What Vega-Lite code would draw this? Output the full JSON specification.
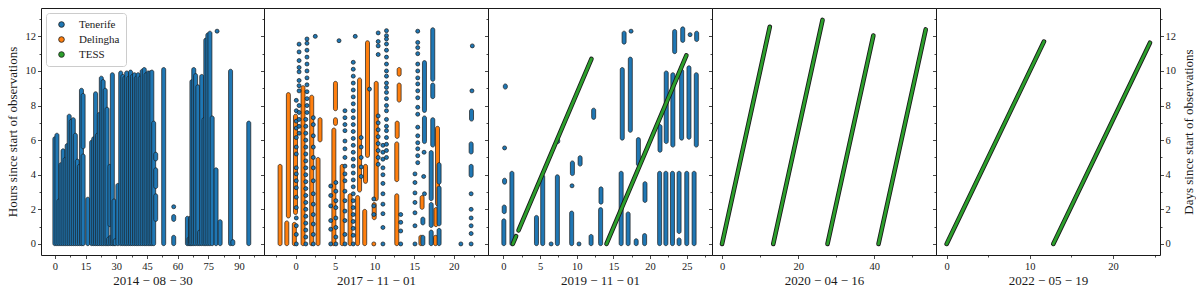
{
  "$schema": "https://vega.github.io/schema/vega-lite/v6.json",
  "padding": {"left": 5, "top": 7, "right": 0, "bottom": 0},
  "spacing": 0,
  "bounds": "flush",
  "background": "white",
  "config": {
    "font": "Liberation Serif",
    "view": {"stroke": "#1a1a1a", "strokeWidth": 1},
    "axis": {"domain": false, "grid": false, "tickColor": "#1a1a1a", "tickWidth": 0.8, "labelFont": "Liberation Serif", "labelFontSize": 10.5, "labelColor": "#1a1a1a", "titleFont": "Liberation Serif", "titleFontSize": 13, "titleFontWeight": "normal", "titleColor": "#1a1a1a", "labelOverlap": false, "labelFlush": false},
    "legend": {"labelFont": "Liberation Serif", "labelFontSize": 11, "labelColor": "#1a1a1a"}
  },
  "resolve": {"scale": {"color": "independent"}, "legend": {"color": "independent"}},
  "datasets": {
    "bars": [
      {"p":1,"s":"Tenerife","x":0,"y":-0.1,"y2":6.2},
      {"p":1,"s":"Tenerife","x":1,"y":-0.1,"y2":6.4},
      {"p":1,"s":"Tenerife","x":2,"y":-0.1,"y2":2.6},
      {"p":1,"s":"Tenerife","x":3,"y":-0.1,"y2":4.7},
      {"p":1,"s":"Tenerife","x":4,"y":-0.1,"y2":5.5},
      {"p":1,"s":"Tenerife","x":5,"y":-0.1,"y2":5.0},
      {"p":1,"s":"Tenerife","x":6,"y":-0.1,"y2":5.8},
      {"p":1,"s":"Tenerife","x":7,"y":-0.1,"y2":7.5},
      {"p":1,"s":"Tenerife","x":8,"y":-0.1,"y2":7.2},
      {"p":1,"s":"Tenerife","x":9,"y":-0.1,"y2":7.3},
      {"p":1,"s":"Tenerife","x":10,"y":-0.1,"y2":6.4},
      {"p":1,"s":"Tenerife","x":11,"y":-0.1,"y2":4.9},
      {"p":1,"s":"Tenerife","x":12,"y":-0.1,"y2":4.6},
      {"p":1,"s":"Tenerife","x":13,"y":-0.1,"y2":9.0},
      {"p":1,"s":"Tenerife","x":13.8,"y":-0.1,"y2":5.2},
      {"p":1,"s":"Tenerife","x":13.8,"y":5.5,"y2":8.7},
      {"p":1,"s":"Tenerife","x":16.1,"y":-0.1,"y2":2.7},
      {"p":1,"s":"Tenerife","x":18,"y":-0.1,"y2":6.0},
      {"p":1,"s":"Tenerife","x":19,"y":-0.1,"y2":6.2},
      {"p":1,"s":"Tenerife","x":19.9,"y":-0.1,"y2":8.8},
      {"p":1,"s":"Tenerife","x":20.8,"y":-0.1,"y2":6.4},
      {"p":1,"s":"Tenerife","x":21.7,"y":-0.1,"y2":7.6},
      {"p":1,"s":"Tenerife","x":22.7,"y":-0.1,"y2":9.7},
      {"p":1,"s":"Tenerife","x":23.6,"y":-0.1,"y2":9.5},
      {"p":1,"s":"Tenerife","x":24.6,"y":-0.1,"y2":9.0},
      {"p":1,"s":"Tenerife","x":25.5,"y":-0.1,"y2":7.9},
      {"p":1,"s":"Tenerife","x":26.3,"y":-0.1,"y2":0.4},
      {"p":1,"s":"Tenerife","x":26.9,"y":1.0,"y2":4.6},
      {"p":1,"s":"Tenerife","x":27.3,"y":-0.1,"y2":0.5},
      {"p":1,"s":"Tenerife","x":28.1,"y":-0.1,"y2":9.9},
      {"p":1,"s":"Tenerife","x":28.9,"y":-0.1,"y2":2.6},
      {"p":1,"s":"Tenerife","x":29.5,"y":-0.1,"y2":0.3},
      {"p":1,"s":"Tenerife","x":30.8,"y":-0.1,"y2":3.5},
      {"p":1,"s":"Tenerife","x":32.2,"y":-0.1,"y2":10.0},
      {"p":1,"s":"Tenerife","x":33.2,"y":-0.1,"y2":9.8},
      {"p":1,"s":"Tenerife","x":34.2,"y":-0.1,"y2":9.7},
      {"p":1,"s":"Tenerife","x":35.1,"y":-0.1,"y2":10.0},
      {"p":1,"s":"Tenerife","x":36.1,"y":-0.1,"y2":9.7},
      {"p":1,"s":"Tenerife","x":37,"y":-0.1,"y2":10.05},
      {"p":1,"s":"Tenerife","x":37.9,"y":-0.1,"y2":9.8},
      {"p":1,"s":"Tenerife","x":38.9,"y":-0.1,"y2":9.9},
      {"p":1,"s":"Tenerife","x":39.8,"y":-0.1,"y2":9.7},
      {"p":1,"s":"Tenerife","x":40.7,"y":-0.1,"y2":9.9},
      {"p":1,"s":"Tenerife","x":41.7,"y":-0.1,"y2":9.7},
      {"p":1,"s":"Tenerife","x":42.7,"y":-0.1,"y2":10.1},
      {"p":1,"s":"Tenerife","x":43.7,"y":-0.1,"y2":10.2},
      {"p":1,"s":"Tenerife","x":44.6,"y":-0.1,"y2":9.9},
      {"p":1,"s":"Tenerife","x":45.6,"y":-0.1,"y2":10.0},
      {"p":1,"s":"Tenerife","x":46.5,"y":-0.1,"y2":10.0},
      {"p":1,"s":"Tenerife","x":47.4,"y":-0.1,"y2":10.05},
      {"p":1,"s":"Tenerife","x":48.3,"y":-0.1,"y2":7.1},
      {"p":1,"s":"Tenerife","x":49.3,"y":4.8,"y2":5.3},
      {"p":1,"s":"Tenerife","x":49.3,"y":3.2,"y2":4.4},
      {"p":1,"s":"Tenerife","x":49.3,"y":1.3,"y2":2.9},
      {"p":1,"s":"Tenerife","x":53.2,"y":-0.1,"y2":10.2},
      {"p":1,"s":"Tenerife","x":58.1,"y":1.3,"y2":1.7},
      {"p":1,"s":"Tenerife","x":58.1,"y":-0.1,"y2":0.5},
      {"p":1,"s":"Tenerife","x":64.8,"y":-0.1,"y2":1.6},
      {"p":1,"s":"Tenerife","x":65.6,"y":-0.1,"y2":0.4},
      {"p":1,"s":"Tenerife","x":66.3,"y":-0.1,"y2":1.6},
      {"p":1,"s":"Tenerife","x":67,"y":-0.1,"y2":9.5},
      {"p":1,"s":"Tenerife","x":67.9,"y":-0.1,"y2":10.2},
      {"p":1,"s":"Tenerife","x":68.8,"y":-0.1,"y2":9.85},
      {"p":1,"s":"Tenerife","x":69.9,"y":-0.1,"y2":9.2},
      {"p":1,"s":"Tenerife","x":70.8,"y":-0.1,"y2":0.8},
      {"p":1,"s":"Tenerife","x":71.8,"y":-0.1,"y2":9.8},
      {"p":1,"s":"Tenerife","x":72.9,"y":-0.1,"y2":7.3},
      {"p":1,"s":"Tenerife","x":73.8,"y":-0.1,"y2":11.9},
      {"p":1,"s":"Tenerife","x":74.8,"y":-0.1,"y2":12.2},
      {"p":1,"s":"Tenerife","x":75.8,"y":-0.1,"y2":12.3},
      {"p":1,"s":"Tenerife","x":76.9,"y":-0.1,"y2":7.4},
      {"p":1,"s":"Tenerife","x":78.8,"y":-0.1,"y2":4.4},
      {"p":1,"s":"Tenerife","x":80.8,"y":-0.1,"y2":1.4},
      {"p":1,"s":"Tenerife","x":85.9,"y":-0.1,"y2":10.1},
      {"p":1,"s":"Tenerife","x":87,"y":-0.1,"y2":0.25},
      {"p":1,"s":"Tenerife","x":94.8,"y":-0.1,"y2":7.1},

      {"p":2,"s":"Delingha","x":-1.95,"y":-0.1,"y2":4.6},
      {"p":2,"s":"Delingha","x":-1.1,"y":-0.1,"y2":1.33},
      {"p":2,"s":"Delingha","x":-0.9,"y":1.5,"y2":8.75},
      {"p":2,"s":"Delingha","x":-0.15,"y":-0.1,"y2":1.25},
      {"p":2,"s":"Delingha","x":0.0,"y":1.7,"y2":7.5},
      {"p":2,"s":"Delingha","x":0.95,"y":-0.1,"y2":9.15},
      {"p":2,"s":"Delingha","x":2.05,"y":-0.1,"y2":8.6},
      {"p":2,"s":"Delingha","x":2.85,"y":-0.1,"y2":5.0},
      {"p":2,"s":"Delingha","x":3.1,"y":5.9,"y2":7.3},
      {"p":2,"s":"Delingha","x":4.85,"y":-0.1,"y2":6.7},
      {"p":2,"s":"Delingha","x":5.05,"y":6.85,"y2":7.3},
      {"p":2,"s":"Delingha","x":5.05,"y":7.7,"y2":9.4},
      {"p":2,"s":"Delingha","x":5.9,"y":-0.1,"y2":4.6},
      {"p":2,"s":"Delingha","x":6.9,"y":-0.1,"y2":2.9},
      {"p":2,"s":"Delingha","x":7.85,"y":-0.1,"y2":2.8},
      {"p":2,"s":"Delingha","x":8.1,"y":3.0,"y2":9.6},
      {"p":2,"s":"Delingha","x":8.75,"y":-0.1,"y2":2.0},
      {"p":2,"s":"Delingha","x":8.85,"y":3.5,"y2":4.6},
      {"p":2,"s":"Delingha","x":9.1,"y":5.0,"y2":11.75},
      {"p":2,"s":"Delingha","x":9.95,"y":1.4,"y2":2.4},
      {"p":2,"s":"Delingha","x":10.2,"y":2.5,"y2":9.4},
      {"p":2,"s":"Delingha","x":12.8,"y":-0.1,"y2":2.9},
      {"p":2,"s":"Delingha","x":12.8,"y":3.6,"y2":5.9},
      {"p":2,"s":"Delingha","x":12.85,"y":6.1,"y2":7.1},
      {"p":2,"s":"Delingha","x":13.1,"y":8.2,"y2":9.3},
      {"p":2,"s":"Delingha","x":13.1,"y":9.7,"y2":10.2},
      {"p":2,"s":"Delingha","x":15.85,"y":-0.1,"y2":0.5},
      {"p":2,"s":"Delingha","x":16.0,"y":2.0,"y2":2.8},
      {"p":2,"s":"Delingha","x":17.7,"y":-0.1,"y2":0.5},
      {"p":2,"s":"Delingha","x":17.75,"y":1.0,"y2":2.1},
      {"p":2,"s":"Delingha","x":17.95,"y":2.2,"y2":6.8},
      {"p":2,"s":"Tenerife","x":16.1,"y":-0.1,"y2":0.5},
      {"p":2,"s":"Tenerife","x":16.1,"y":1.1,"y2":1.55},
      {"p":2,"s":"Tenerife","x":16.3,"y":5.8,"y2":7.4},
      {"p":2,"s":"Tenerife","x":16.3,"y":7.6,"y2":10.6},
      {"p":2,"s":"Tenerife","x":17.15,"y":-0.1,"y2":0.8},
      {"p":2,"s":"Tenerife","x":17.15,"y":0.95,"y2":2.4},
      {"p":2,"s":"Tenerife","x":17.15,"y":2.5,"y2":5.4},
      {"p":2,"s":"Tenerife","x":17.35,"y":5.6,"y2":7.3},
      {"p":2,"s":"Tenerife","x":17.35,"y":8.4,"y2":9.3},
      {"p":2,"s":"Tenerife","x":17.35,"y":9.4,"y2":12.5},
      {"p":2,"s":"Tenerife","x":18.15,"y":-0.1,"y2":0.9},
      {"p":2,"s":"Tenerife","x":18.15,"y":1.05,"y2":3.35},
      {"p":2,"s":"Tenerife","x":18.15,"y":3.45,"y2":4.7},
      {"p":2,"s":"Tenerife","x":22.2,"y":3.85,"y2":4.6},
      {"p":2,"s":"Tenerife","x":22.2,"y":5.2,"y2":5.9},
      {"p":2,"s":"Tenerife","x":22.25,"y":7.1,"y2":7.8},

      {"p":3,"s":"Tenerife","x":0.05,"y":-0.1,"y2":1.45},
      {"p":3,"s":"Tenerife","x":0.1,"y":1.75,"y2":2.25},
      {"p":3,"s":"Tenerife","x":0.15,"y":3.45,"y2":3.8},
      {"p":3,"s":"Tenerife","x":0.25,"y":8.95,"y2":9.25},
      {"p":3,"s":"Tenerife","x":1.15,"y":-0.1,"y2":4.2},
      {"p":3,"s":"Tenerife","x":4.5,"y":-0.1,"y2":1.65},
      {"p":3,"s":"Tenerife","x":5.35,"y":-0.1,"y2":4.0},
      {"p":3,"s":"Tenerife","x":7.35,"y":-0.1,"y2":4.0},
      {"p":3,"s":"Tenerife","x":7.4,"y":5.8,"y2":6.1},
      {"p":3,"s":"Tenerife","x":9.3,"y":-0.1,"y2":1.9},
      {"p":3,"s":"Tenerife","x":9.4,"y":3.95,"y2":4.8},
      {"p":3,"s":"Tenerife","x":10.45,"y":4.5,"y2":5.1},
      {"p":3,"s":"Tenerife","x":11.95,"y":-0.1,"y2":0.55},
      {"p":3,"s":"Tenerife","x":12.3,"y":7.2,"y2":7.85},
      {"p":3,"s":"Tenerife","x":13.25,"y":-0.1,"y2":2.1},
      {"p":3,"s":"Tenerife","x":13.3,"y":2.3,"y2":3.3},
      {"p":3,"s":"Tenerife","x":16.05,"y":-0.1,"y2":4.2},
      {"p":3,"s":"Tenerife","x":16.2,"y":6.0,"y2":10.2},
      {"p":3,"s":"Tenerife","x":16.45,"y":11.55,"y2":12.3},
      {"p":3,"s":"Tenerife","x":17.0,"y":-0.1,"y2":1.85},
      {"p":3,"s":"Tenerife","x":17.3,"y":6.45,"y2":10.8},
      {"p":3,"s":"Tenerife","x":18.1,"y":-0.1,"y2":0.3},
      {"p":3,"s":"Tenerife","x":18.4,"y":4.5,"y2":6.15},
      {"p":3,"s":"Tenerife","x":19.25,"y":-0.1,"y2":0.6},
      {"p":3,"s":"Tenerife","x":19.3,"y":2.4,"y2":3.6},
      {"p":3,"s":"Tenerife","x":21.3,"y":-0.1,"y2":4.2},
      {"p":3,"s":"Tenerife","x":21.35,"y":5.3,"y2":6.9},
      {"p":3,"s":"Tenerife","x":22.15,"y":-0.1,"y2":4.2},
      {"p":3,"s":"Tenerife","x":22.2,"y":5.8,"y2":10.0},
      {"p":3,"s":"Tenerife","x":23.05,"y":-0.1,"y2":4.2},
      {"p":3,"s":"Tenerife","x":23.1,"y":5.6,"y2":9.9},
      {"p":3,"s":"Tenerife","x":23.35,"y":11.0,"y2":12.4},
      {"p":3,"s":"Tenerife","x":23.95,"y":-0.1,"y2":0.35},
      {"p":3,"s":"Tenerife","x":23.95,"y":0.6,"y2":4.2},
      {"p":3,"s":"Tenerife","x":24.3,"y":6.0,"y2":10.1},
      {"p":3,"s":"Tenerife","x":24.45,"y":11.65,"y2":12.55},
      {"p":3,"s":"Tenerife","x":25.0,"y":-0.1,"y2":4.2},
      {"p":3,"s":"Tenerife","x":25.3,"y":6.05,"y2":10.3},
      {"p":3,"s":"Tenerife","x":26.0,"y":-0.1,"y2":4.2},
      {"p":3,"s":"Tenerife","x":26.3,"y":5.6,"y2":9.9},
      {"p":3,"s":"Tenerife","x":26.35,"y":11.7,"y2":12.3}
    ],
    "dots": [
      {"p":1,"s":"Tenerife","x":58.1,"y":2.15},
      {"p":1,"s":"Tenerife","x":79.3,"y":12.3},
      {"p":2,"s":"Delingha","x":9.9,"y":0},
      {"p":2,"s":"Tenerife","x":0.1,"y":0},{"p":2,"s":"Tenerife","x":0.1,"y":0.55},{"p":2,"s":"Tenerife","x":0.1,"y":1.05},{"p":2,"s":"Tenerife","x":0.1,"y":1.5},{"p":2,"s":"Tenerife","x":0.1,"y":2.1},{"p":2,"s":"Tenerife","x":0.1,"y":2.7},{"p":2,"s":"Tenerife","x":0.1,"y":3.25},{"p":2,"s":"Tenerife","x":0.1,"y":3.65},{"p":2,"s":"Tenerife","x":0.1,"y":4.05},{"p":2,"s":"Tenerife","x":0.1,"y":4.4},{"p":2,"s":"Tenerife","x":0.1,"y":5.2},{"p":2,"s":"Tenerife","x":0.1,"y":5.6},{"p":2,"s":"Tenerife","x":0.1,"y":6.15},{"p":2,"s":"Tenerife","x":0.1,"y":6.7},{"p":2,"s":"Tenerife","x":0.1,"y":7.1},{"p":2,"s":"Tenerife","x":0.1,"y":7.7},{"p":2,"s":"Tenerife","x":0.1,"y":8.3},
      {"p":2,"s":"Tenerife","x":0.45,"y":11.55},{"p":2,"s":"Tenerife","x":0.45,"y":11.1},{"p":2,"s":"Tenerife","x":0.45,"y":10.6},{"p":2,"s":"Tenerife","x":0.45,"y":10.2},{"p":2,"s":"Tenerife","x":0.45,"y":9.95},{"p":2,"s":"Tenerife","x":0.45,"y":9.45},{"p":2,"s":"Tenerife","x":0.45,"y":9.15},{"p":2,"s":"Tenerife","x":0.45,"y":8.85},{"p":2,"s":"Tenerife","x":0.45,"y":8.0},{"p":2,"s":"Tenerife","x":0.45,"y":7.6},{"p":2,"s":"Tenerife","x":0.45,"y":7.2},{"p":2,"s":"Tenerife","x":0.45,"y":6.8},{"p":2,"s":"Tenerife","x":0.45,"y":6.4},
      {"p":2,"s":"Tenerife","x":1.3,"y":0},{"p":2,"s":"Tenerife","x":1.3,"y":0.4},{"p":2,"s":"Tenerife","x":1.3,"y":0.8},{"p":2,"s":"Tenerife","x":1.3,"y":1.2},{"p":2,"s":"Tenerife","x":1.3,"y":1.6},{"p":2,"s":"Tenerife","x":1.3,"y":2.0},{"p":2,"s":"Tenerife","x":1.3,"y":2.4},{"p":2,"s":"Tenerife","x":1.3,"y":2.8},{"p":2,"s":"Tenerife","x":1.3,"y":3.2},{"p":2,"s":"Tenerife","x":1.3,"y":3.6},{"p":2,"s":"Tenerife","x":1.3,"y":4.0},{"p":2,"s":"Tenerife","x":1.3,"y":4.4},{"p":2,"s":"Tenerife","x":1.3,"y":4.8},{"p":2,"s":"Tenerife","x":1.3,"y":5.2},{"p":2,"s":"Tenerife","x":1.3,"y":5.6},{"p":2,"s":"Tenerife","x":1.3,"y":6.0},{"p":2,"s":"Tenerife","x":1.3,"y":6.4},{"p":2,"s":"Tenerife","x":1.3,"y":6.8},{"p":2,"s":"Tenerife","x":1.3,"y":7.2},
      {"p":2,"s":"Tenerife","x":1.45,"y":7.6},{"p":2,"s":"Tenerife","x":1.45,"y":8.0},{"p":2,"s":"Tenerife","x":1.45,"y":8.4},{"p":2,"s":"Tenerife","x":1.45,"y":8.8},{"p":2,"s":"Tenerife","x":1.45,"y":9.2},{"p":2,"s":"Tenerife","x":1.45,"y":9.6},{"p":2,"s":"Tenerife","x":1.45,"y":10.0},{"p":2,"s":"Tenerife","x":1.45,"y":10.4},{"p":2,"s":"Tenerife","x":1.45,"y":10.8},{"p":2,"s":"Tenerife","x":1.45,"y":11.2},{"p":2,"s":"Tenerife","x":1.45,"y":11.6},{"p":2,"s":"Tenerife","x":1.45,"y":11.85},
      {"p":2,"s":"Tenerife","x":2.25,"y":7.3},{"p":2,"s":"Tenerife","x":2.25,"y":6.9},{"p":2,"s":"Tenerife","x":2.25,"y":6.25},{"p":2,"s":"Tenerife","x":2.25,"y":5.6},{"p":2,"s":"Tenerife","x":2.25,"y":5.0},{"p":2,"s":"Tenerife","x":2.25,"y":4.4},{"p":2,"s":"Tenerife","x":2.25,"y":3.65},{"p":2,"s":"Tenerife","x":2.25,"y":2.9},{"p":2,"s":"Tenerife","x":2.25,"y":2.3},{"p":2,"s":"Tenerife","x":2.25,"y":1.7},{"p":2,"s":"Tenerife","x":2.25,"y":1.15},{"p":2,"s":"Tenerife","x":2.25,"y":0.55},{"p":2,"s":"Tenerife","x":2.25,"y":0},
      {"p":2,"s":"Tenerife","x":2.5,"y":12.0},
      {"p":2,"s":"Tenerife","x":4.45,"y":3.35},{"p":2,"s":"Tenerife","x":4.45,"y":2.8},{"p":2,"s":"Tenerife","x":4.45,"y":2.2},{"p":2,"s":"Tenerife","x":4.45,"y":1.35},{"p":2,"s":"Tenerife","x":4.45,"y":0.85},{"p":2,"s":"Tenerife","x":4.45,"y":0},
      {"p":2,"s":"Tenerife","x":5.1,"y":3.55},{"p":2,"s":"Tenerife","x":5.1,"y":3.05},{"p":2,"s":"Tenerife","x":5.1,"y":2.5},{"p":2,"s":"Tenerife","x":5.1,"y":2.1},{"p":2,"s":"Tenerife","x":5.1,"y":1.5},{"p":2,"s":"Tenerife","x":5.1,"y":0.95},{"p":2,"s":"Tenerife","x":5.1,"y":0.4},{"p":2,"s":"Tenerife","x":5.1,"y":0},
      {"p":2,"s":"Tenerife","x":5.5,"y":11.75},
      {"p":2,"s":"Tenerife","x":6.25,"y":7.7},{"p":2,"s":"Tenerife","x":6.25,"y":7.3},{"p":2,"s":"Tenerife","x":6.25,"y":6.9},{"p":2,"s":"Tenerife","x":6.25,"y":6.55},{"p":2,"s":"Tenerife","x":6.25,"y":5.95},{"p":2,"s":"Tenerife","x":6.25,"y":5.5},{"p":2,"s":"Tenerife","x":6.25,"y":5.0},{"p":2,"s":"Tenerife","x":6.25,"y":4.5},{"p":2,"s":"Tenerife","x":6.25,"y":4.05},{"p":2,"s":"Tenerife","x":6.25,"y":3.65},{"p":2,"s":"Tenerife","x":6.25,"y":3.05},{"p":2,"s":"Tenerife","x":6.25,"y":2.5},{"p":2,"s":"Tenerife","x":6.25,"y":1.9},{"p":2,"s":"Tenerife","x":6.25,"y":1.35},{"p":2,"s":"Tenerife","x":6.25,"y":0.55},{"p":2,"s":"Tenerife","x":6.25,"y":0},
      {"p":2,"s":"Tenerife","x":7.3,"y":10.5},{"p":2,"s":"Tenerife","x":7.3,"y":10.1},{"p":2,"s":"Tenerife","x":7.3,"y":9.7},{"p":2,"s":"Tenerife","x":7.3,"y":9.3},{"p":2,"s":"Tenerife","x":7.3,"y":8.9},{"p":2,"s":"Tenerife","x":7.3,"y":8.5},{"p":2,"s":"Tenerife","x":7.3,"y":8.1},{"p":2,"s":"Tenerife","x":7.3,"y":7.7},{"p":2,"s":"Tenerife","x":7.3,"y":7.3},{"p":2,"s":"Tenerife","x":7.3,"y":6.9},{"p":2,"s":"Tenerife","x":7.3,"y":6.5},{"p":2,"s":"Tenerife","x":7.3,"y":6.1},{"p":2,"s":"Tenerife","x":7.3,"y":5.7},{"p":2,"s":"Tenerife","x":7.3,"y":5.3},{"p":2,"s":"Tenerife","x":7.3,"y":4.9},{"p":2,"s":"Tenerife","x":7.3,"y":4.5},{"p":2,"s":"Tenerife","x":7.3,"y":4.1},{"p":2,"s":"Tenerife","x":7.3,"y":3.7},{"p":2,"s":"Tenerife","x":7.3,"y":3.3},{"p":2,"s":"Tenerife","x":7.3,"y":2.9},{"p":2,"s":"Tenerife","x":7.3,"y":2.5},{"p":2,"s":"Tenerife","x":7.3,"y":2.1},{"p":2,"s":"Tenerife","x":7.3,"y":1.7},{"p":2,"s":"Tenerife","x":7.3,"y":1.3},{"p":2,"s":"Tenerife","x":7.3,"y":0.9},{"p":2,"s":"Tenerife","x":7.3,"y":0.5},{"p":2,"s":"Tenerife","x":7.3,"y":0},
      {"p":2,"s":"Tenerife","x":7.55,"y":12.0},
      {"p":2,"s":"Tenerife","x":8.3,"y":6.15},{"p":2,"s":"Tenerife","x":8.3,"y":5.6},{"p":2,"s":"Tenerife","x":8.3,"y":5.0},{"p":2,"s":"Tenerife","x":8.3,"y":4.45},{"p":2,"s":"Tenerife","x":8.3,"y":3.9},
      {"p":2,"s":"Tenerife","x":9.35,"y":8.95},
      {"p":2,"s":"Tenerife","x":9.9,"y":2.6},{"p":2,"s":"Tenerife","x":9.9,"y":2.2},{"p":2,"s":"Tenerife","x":9.9,"y":1.7},
      {"p":2,"s":"Tenerife","x":10.45,"y":12.2},{"p":2,"s":"Tenerife","x":10.45,"y":11.7},{"p":2,"s":"Tenerife","x":10.45,"y":11.45},{"p":2,"s":"Tenerife","x":10.45,"y":10.95},{"p":2,"s":"Tenerife","x":10.45,"y":7.4},{"p":2,"s":"Tenerife","x":10.45,"y":7.0},{"p":2,"s":"Tenerife","x":10.45,"y":6.6},{"p":2,"s":"Tenerife","x":10.45,"y":6.2},{"p":2,"s":"Tenerife","x":10.45,"y":5.8},{"p":2,"s":"Tenerife","x":10.45,"y":5.4},{"p":2,"s":"Tenerife","x":10.45,"y":5.0},{"p":2,"s":"Tenerife","x":10.45,"y":4.6},
      {"p":2,"s":"Tenerife","x":11.05,"y":0},{"p":2,"s":"Tenerife","x":11.05,"y":0.95},{"p":2,"s":"Tenerife","x":11.05,"y":1.75},{"p":2,"s":"Tenerife","x":11.05,"y":2.3},{"p":2,"s":"Tenerife","x":11.05,"y":2.9},{"p":2,"s":"Tenerife","x":11.05,"y":3.5},{"p":2,"s":"Tenerife","x":11.05,"y":4.0},{"p":2,"s":"Tenerife","x":11.05,"y":4.4},{"p":2,"s":"Tenerife","x":11.05,"y":4.9},{"p":2,"s":"Tenerife","x":11.05,"y":5.3},{"p":2,"s":"Tenerife","x":11.05,"y":5.7},
      {"p":2,"s":"Tenerife","x":11.5,"y":12.33},{"p":2,"s":"Tenerife","x":11.5,"y":12.04},{"p":2,"s":"Tenerife","x":11.5,"y":11.85},{"p":2,"s":"Tenerife","x":11.5,"y":11.56},{"p":2,"s":"Tenerife","x":11.5,"y":11.2},{"p":2,"s":"Tenerife","x":11.5,"y":10.8},{"p":2,"s":"Tenerife","x":11.5,"y":10.4},{"p":2,"s":"Tenerife","x":11.5,"y":10.0},{"p":2,"s":"Tenerife","x":11.5,"y":9.7},{"p":2,"s":"Tenerife","x":11.5,"y":9.3},{"p":2,"s":"Tenerife","x":11.5,"y":9.05},{"p":2,"s":"Tenerife","x":11.5,"y":8.76},{"p":2,"s":"Tenerife","x":11.5,"y":8.4},{"p":2,"s":"Tenerife","x":11.5,"y":8.0},{"p":2,"s":"Tenerife","x":11.5,"y":7.7},{"p":2,"s":"Tenerife","x":11.5,"y":7.2},{"p":2,"s":"Tenerife","x":11.5,"y":6.8},{"p":2,"s":"Tenerife","x":11.5,"y":6.55},{"p":2,"s":"Tenerife","x":11.5,"y":6.15},{"p":2,"s":"Tenerife","x":11.5,"y":5.76},{"p":2,"s":"Tenerife","x":11.5,"y":5.4},{"p":2,"s":"Tenerife","x":11.5,"y":5.0},
      {"p":2,"s":"Tenerife","x":13.3,"y":1.7},{"p":2,"s":"Tenerife","x":13.3,"y":1.25},{"p":2,"s":"Tenerife","x":13.3,"y":0.75},{"p":2,"s":"Tenerife","x":13.3,"y":0},
      {"p":2,"s":"Tenerife","x":15.1,"y":0},{"p":2,"s":"Tenerife","x":15.1,"y":1.05},{"p":2,"s":"Tenerife","x":15.1,"y":1.8},{"p":2,"s":"Tenerife","x":15.1,"y":2.4},{"p":2,"s":"Tenerife","x":15.1,"y":2.95},{"p":2,"s":"Tenerife","x":15.1,"y":3.55},{"p":2,"s":"Tenerife","x":15.1,"y":4.05},
      {"p":2,"s":"Tenerife","x":15.45,"y":12.3},{"p":2,"s":"Tenerife","x":15.45,"y":11.65},{"p":2,"s":"Tenerife","x":15.45,"y":11.35},{"p":2,"s":"Tenerife","x":15.45,"y":11.0},{"p":2,"s":"Tenerife","x":15.45,"y":10.4},{"p":2,"s":"Tenerife","x":15.45,"y":10.0},{"p":2,"s":"Tenerife","x":15.45,"y":9.6},{"p":2,"s":"Tenerife","x":15.45,"y":9.25},{"p":2,"s":"Tenerife","x":15.45,"y":8.85},{"p":2,"s":"Tenerife","x":15.45,"y":8.45},{"p":2,"s":"Tenerife","x":15.45,"y":7.9},{"p":2,"s":"Tenerife","x":15.45,"y":7.5},{"p":2,"s":"Tenerife","x":15.45,"y":6.75},{"p":2,"s":"Tenerife","x":15.45,"y":6.25},{"p":2,"s":"Tenerife","x":15.45,"y":5.85},{"p":2,"s":"Tenerife","x":15.45,"y":5.5},{"p":2,"s":"Tenerife","x":15.45,"y":5.1},{"p":2,"s":"Tenerife","x":15.45,"y":4.7},
      {"p":2,"s":"Tenerife","x":16.2,"y":3.9},{"p":2,"s":"Tenerife","x":16.25,"y":5.3},{"p":2,"s":"Tenerife","x":16.3,"y":2.9},
      {"p":2,"s":"Tenerife","x":20.9,"y":0},
      {"p":2,"s":"Tenerife","x":22.2,"y":0},{"p":2,"s":"Tenerife","x":22.2,"y":0.6},{"p":2,"s":"Tenerife","x":22.2,"y":1.05},{"p":2,"s":"Tenerife","x":22.2,"y":1.5},{"p":2,"s":"Tenerife","x":22.2,"y":2.0},{"p":2,"s":"Tenerife","x":22.2,"y":2.9},
      {"p":2,"s":"Tenerife","x":22.3,"y":8.85},{"p":2,"s":"Tenerife","x":22.35,"y":11.45},
      {"p":3,"s":"Tenerife","x":0.15,"y":5.55},
      {"p":3,"s":"Tenerife","x":6.5,"y":0},
      {"p":3,"s":"Tenerife","x":9.35,"y":3.36},
      {"p":3,"s":"Tenerife","x":10.3,"y":0},
      {"p":3,"s":"Tenerife","x":17.4,"y":12.3},
      {"p":3,"s":"Tenerife","x":25.45,"y":12.1}
    ],
    "tess": [
      {"p":3,"s":"TESS","x":1.27,"y":0,"x2":1.72,"y2":0.45},
      {"p":3,"s":"TESS","x":2.05,"y":0.78,"x2":12.0,"y2":10.7},
      {"p":3,"s":"TESS","x":14.05,"y":0,"x2":24.95,"y2":10.9},
      {"p":4,"s":"TESS","x":0,"y":0,"x2":12.55,"y2":12.55},
      {"p":4,"s":"TESS","x":13.45,"y":0,"x2":26.4,"y2":12.95},
      {"p":4,"s":"TESS","x":27.7,"y":0,"x2":39.75,"y2":12.05},
      {"p":4,"s":"TESS","x":41.1,"y":0,"x2":53.5,"y2":12.4},
      {"p":5,"s":"TESS","x":0,"y":0,"x2":11.7,"y2":11.7},
      {"p":5,"s":"TESS","x":12.82,"y":0,"x2":24.45,"y2":11.63}
    ]
  },
  "hconcat": [
    {
      "width": 223, "height": 247,
      "encoding": {
        "x": {"field": "x", "type": "quantitative", "scale": {"domain": [-4.34, 99.8], "nice": false, "zero": false},
          "axis": {"title": "2014 − 08 − 30", "values": [0,7.5,15,22.5,30,37.5,45,52.5,60,67.5,75,82.5,90,97.5], "labelExpr": "datum.value % 15 === 0 ? datum.label : ''", "tickSize": {"condition": {"test": "datum.value % 15 !== 0", "value": 2}, "value": 3.5}, "labelPadding": 3, "titlePadding": 2}},
        "y": {"field": "y", "type": "quantitative", "scale": {"domain": [-0.64, 13.64], "nice": false, "zero": false},
          "axis": {"title": "Hours since start of observations", "values": [0,1,2,3,4,5,6,7,8,9,10,11,12,13], "labelExpr": "datum.value % 2 === 0 ? datum.label : ''", "tickSize": {"condition": {"test": "datum.value % 2 !== 0", "value": 2}, "value": 3.5}, "labelPadding": 2, "titlePadding": 6}},
        "color": {"field": "s", "type": "nominal", "scale": {"domain": ["Tenerife", "Delingha", "TESS"], "range": ["#1f77b4", "#ff7f0e", "#2ca02c"]},
          "legend": {"title": null, "orient": "top-left", "offset": 5, "padding": 6, "symbolType": "circle", "symbolSize": 32, "symbolOffset": 4, "symbolStrokeColor": "#1a1a1a", "symbolStrokeWidth": 0.8, "labelOffset": 12, "rowPadding": 3, "strokeColor": "#cccccc", "fillColor": "white", "cornerRadius": 3}}
      },
      "layer": [
        {"data": {"name": "bars"}, "transform": [{"filter": "datum.p === 1"}],
         "mark": {"type": "bar", "width": 4, "cornerRadius": 2, "stroke": "#1a1a1a", "strokeWidth": 0.7},
         "encoding": {"y2": {"field": "y2"}}},
        {"data": {"name": "dots"}, "transform": [{"filter": "datum.p === 1"}],
         "mark": {"type": "point", "shape": "circle", "filled": true, "size": 16, "opacity": 1, "stroke": "#1a1a1a", "strokeWidth": 0.7}}
      ]
    },
    {
      "width": 224, "height": 247,
      "encoding": {
        "x": {"field": "x", "type": "quantitative", "scale": {"domain": [-3.35, 23.7], "nice": false, "zero": false},
          "axis": {"title": "2017 − 11 − 01", "values": [-2.5,0,2.5,5,7.5,10,12.5,15,17.5,20,22.5], "labelExpr": "datum.value % 5 === 0 ? datum.label : ''", "tickSize": {"condition": {"test": "datum.value % 5 !== 0", "value": 2}, "value": 3.5}, "labelPadding": 3, "titlePadding": 2}},
        "y": {"field": "y", "type": "quantitative", "scale": {"domain": [-0.64, 13.64], "nice": false, "zero": false},
          "axis": {"title": null, "labels": false, "values": [0,1,2,3,4,5,6,7,8,9,10,11,12,13], "tickSize": {"condition": {"test": "datum.value % 2 !== 0", "value": 2}, "value": 3.5}}},
        "color": {"field": "s", "type": "nominal", "scale": {"domain": ["Tenerife", "Delingha", "TESS"], "range": ["#1f77b4", "#ff7f0e", "#2ca02c"]}, "legend": null}
      },
      "layer": [
        {"data": {"name": "bars"}, "transform": [{"filter": "datum.p === 2"}],
         "mark": {"type": "bar", "width": 4, "cornerRadius": 2, "stroke": "#1a1a1a", "strokeWidth": 0.7},
         "encoding": {"y2": {"field": "y2"}}},
        {"data": {"name": "dots"}, "transform": [{"filter": "datum.p === 2"}],
         "mark": {"type": "point", "shape": "circle", "filled": true, "size": 16, "opacity": 1, "stroke": "#1a1a1a", "strokeWidth": 0.7}}
      ]
    },
    {
      "width": 224, "height": 247,
      "encoding": {
        "x": {"field": "x", "type": "quantitative", "scale": {"domain": [-1.43, 27.76], "nice": false, "zero": false},
          "axis": {"title": "2019 − 11 − 01", "values": [0,2.5,5,7.5,10,12.5,15,17.5,20,22.5,25,27.5], "labelExpr": "datum.value % 5 === 0 ? datum.label : ''", "tickSize": {"condition": {"test": "datum.value % 5 !== 0", "value": 2}, "value": 3.5}, "labelPadding": 3, "titlePadding": 2}},
        "y": {"field": "y", "type": "quantitative", "scale": {"domain": [-0.64, 13.64], "nice": false, "zero": false},
          "axis": {"title": null, "labels": false, "values": [0,1,2,3,4,5,6,7,8,9,10,11,12,13], "tickSize": {"condition": {"test": "datum.value % 2 !== 0", "value": 2}, "value": 3.5}}},
        "color": {"field": "s", "type": "nominal", "scale": {"domain": ["Tenerife", "Delingha", "TESS"], "range": ["#1f77b4", "#ff7f0e", "#2ca02c"]}, "legend": null}
      },
      "layer": [
        {"data": {"name": "bars"}, "transform": [{"filter": "datum.p === 3"}],
         "mark": {"type": "bar", "width": 4, "cornerRadius": 2, "stroke": "#1a1a1a", "strokeWidth": 0.7},
         "encoding": {"y2": {"field": "y2"}}},
        {"data": {"name": "dots"}, "transform": [{"filter": "datum.p === 3"}],
         "mark": {"type": "point", "shape": "circle", "filled": true, "size": 16, "opacity": 1, "stroke": "#1a1a1a", "strokeWidth": 0.7}},
        {"data": {"name": "tess"}, "transform": [{"filter": "datum.p === 3"}],
         "mark": {"type": "rule", "strokeWidth": 4.6, "strokeCap": "round"},
         "encoding": {"x2": {"field": "x2"}, "y2": {"field": "y2"}, "color": {"value": "#1a1a1a"}}},
        {"data": {"name": "tess"}, "transform": [{"filter": "datum.p === 3"}],
         "mark": {"type": "rule", "strokeWidth": 2.8, "strokeCap": "round"},
         "encoding": {"x2": {"field": "x2"}, "y2": {"field": "y2"}}}
      ]
    },
    {
      "width": 224, "height": 247,
      "encoding": {
        "x": {"field": "x", "type": "quantitative", "scale": {"domain": [-2.63, 56.2], "nice": false, "zero": false},
          "axis": {"title": "2020 − 04 − 16", "values": [0,10,20,30,40,50], "labelExpr": "datum.value % 20 === 0 ? datum.label : ''", "tickSize": {"condition": {"test": "datum.value % 20 !== 0", "value": 2}, "value": 3.5}, "labelPadding": 3, "titlePadding": 2}},
        "y": {"field": "y", "type": "quantitative", "scale": {"domain": [-0.64, 13.64], "nice": false, "zero": false},
          "axis": {"title": null, "labels": false, "values": [0,1,2,3,4,5,6,7,8,9,10,11,12,13], "tickSize": {"condition": {"test": "datum.value % 2 !== 0", "value": 2}, "value": 3.5}}},
        "color": {"field": "s", "type": "nominal", "scale": {"domain": ["Tenerife", "Delingha", "TESS"], "range": ["#1f77b4", "#ff7f0e", "#2ca02c"]}, "legend": null}
      },
      "layer": [
        {"data": {"name": "tess"}, "transform": [{"filter": "datum.p === 4"}],
         "mark": {"type": "rule", "strokeWidth": 4.6, "strokeCap": "round"},
         "encoding": {"x2": {"field": "x2"}, "y2": {"field": "y2"}, "color": {"value": "#1a1a1a"}}},
        {"data": {"name": "tess"}, "transform": [{"filter": "datum.p === 4"}],
         "mark": {"type": "rule", "strokeWidth": 2.8, "strokeCap": "round"},
         "encoding": {"x2": {"field": "x2"}, "y2": {"field": "y2"}}}
      ]
    },
    {
      "width": 224, "height": 247,
      "resolve": {"axis": {"y": "independent"}},
      "encoding": {
        "x": {"field": "x", "type": "quantitative", "scale": {"domain": [-1.28, 25.65], "nice": false, "zero": false},
          "axis": {"title": "2022 − 05 − 19", "values": [0,5,10,15,20,25], "labelExpr": "datum.value % 10 === 0 ? datum.label : ''", "tickSize": {"condition": {"test": "datum.value % 10 !== 0", "value": 2}, "value": 3.5}, "labelPadding": 3, "titlePadding": 2}},
        "color": {"field": "s", "type": "nominal", "scale": {"domain": ["Tenerife", "Delingha", "TESS"], "range": ["#1f77b4", "#ff7f0e", "#2ca02c"]}, "legend": null}
      },
      "layer": [
        {"data": {"name": "tess"}, "transform": [{"filter": "datum.p === 5"}],
         "mark": {"type": "rule", "strokeWidth": 4.6, "strokeCap": "round"},
         "encoding": {
           "y": {"field": "y", "type": "quantitative", "scale": {"domain": [-0.64, 13.64], "nice": false, "zero": false},
             "axis": {"orient": "left", "title": null, "labels": false, "values": [0,1,2,3,4,5,6,7,8,9,10,11,12,13], "tickSize": {"condition": {"test": "datum.value % 2 !== 0", "value": 2}, "value": 3.5}}},
           "x2": {"field": "x2"}, "y2": {"field": "y2"}, "color": {"value": "#1a1a1a"}}},
        {"data": {"name": "tess"}, "transform": [{"filter": "datum.p === 5"}],
         "mark": {"type": "rule", "strokeWidth": 2.8, "strokeCap": "round"},
         "encoding": {
           "y": {"field": "y", "type": "quantitative", "scale": {"domain": [-0.64, 13.64], "nice": false, "zero": false},
             "axis": {"orient": "right", "title": "Days since start of observations", "titleAngle": 270, "titleBaseline": "top", "values": [0,1,2,3,4,5,6,7,8,9,10,11,12,13], "labelExpr": "datum.value % 2 === 0 ? datum.label : ''", "tickSize": {"condition": {"test": "datum.value % 2 !== 0", "value": 2}, "value": 3.5}, "labelPadding": 1.5, "titlePadding": 7}},
           "x2": {"field": "x2"}, "y2": {"field": "y2"}}}
      ]
    }
  ]
}
